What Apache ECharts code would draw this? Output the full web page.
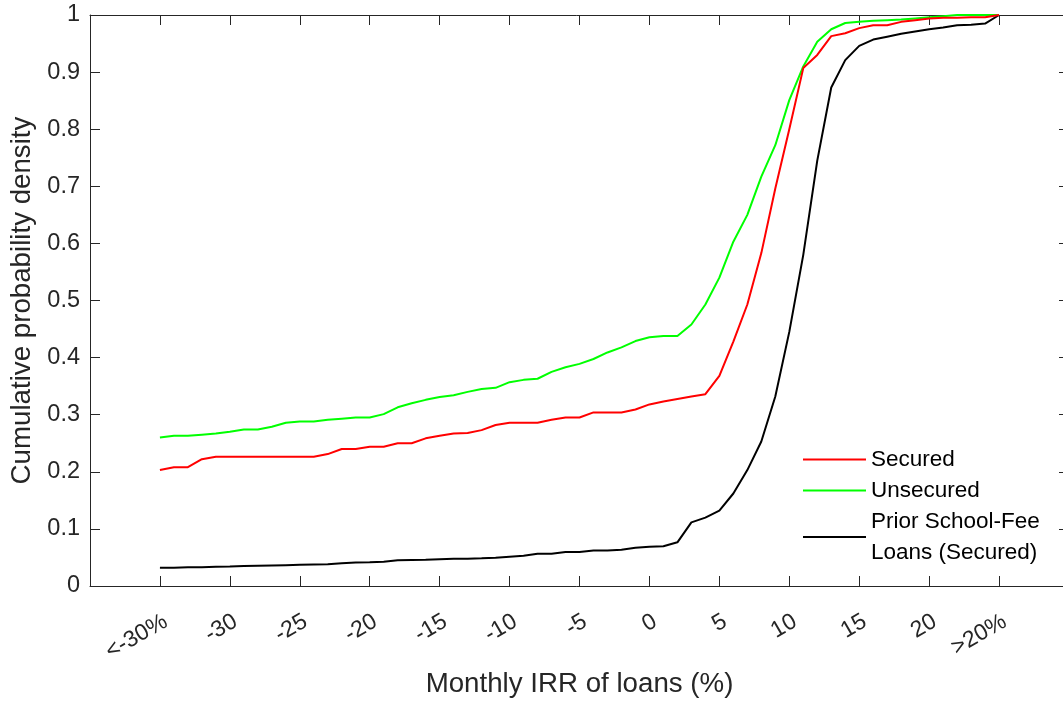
<!DOCTYPE html>
<html>
<head>
<meta charset="utf-8">
<script src="https://cdn.jsdelivr.net/npm/echarts@6/dist/echarts.min.js"></script>
<style>
html,body{margin:0;padding:0;background:#fff;}
#chart{width:1063px;height:703px;}
</style>
</head>
<body>
<div id="chart"></div>
<script>
// IRR bins (-35 stands for "<-30%", 25 stands for ">20%")
const irr = [-35,-34,-33,-32,-31,-30,-29,-28,-27,-26,-25,-24,-23,-22,-21,-20,-19,-18,-17,-16,-15,-14,-13,-12,-11,-10,-9,-8,-7,-6,-5,-4,-3,-2,-1,0,1,2,3,4,5,6,7,8,9,10,11,12,13,14,15,16,17,18,19,20,21,22,23,24,25];

const secured = [0.203,0.208,0.208,0.222,0.2265,0.2265,0.2265,0.2265,0.2265,0.2265,0.2265,0.2265,0.231,0.240,0.240,0.244,0.244,0.250,0.250,0.2586,0.263,0.267,0.268,0.273,0.282,0.286,0.286,0.286,0.291,0.295,0.295,0.304,0.304,0.304,0.309,0.318,0.323,0.3275,0.332,0.336,0.368,0.428,0.493,0.583,0.696,0.800,0.907,0.930,0.963,0.968,0.977,0.982,0.982,0.988,0.991,0.994,0.995,0.995,0.996,0.996,1.0];

const unsecured = [0.260,0.263,0.263,0.265,0.267,0.270,0.274,0.274,0.279,0.286,0.288,0.288,0.291,0.293,0.295,0.295,0.301,0.313,0.320,0.326,0.331,0.334,0.340,0.345,0.347,0.357,0.361,0.363,0.375,0.383,0.389,0.3975,0.409,0.418,0.429,0.4355,0.438,0.438,0.458,0.493,0.540,0.603,0.650,0.717,0.772,0.851,0.910,0.953,0.975,0.986,0.988,0.990,0.991,0.992,0.994,0.996,0.998,1.0,1.0,1.0,1.0];

const priorSchoolFee = [0.032,0.032,0.033,0.033,0.0335,0.034,0.035,0.0355,0.036,0.0365,0.037,0.0375,0.038,0.040,0.041,0.0414,0.0426,0.045,0.0455,0.046,0.047,0.0478,0.0478,0.0485,0.0496,0.0513,0.053,0.0566,0.0566,0.0595,0.0595,0.062,0.062,0.0636,0.067,0.0689,0.0695,0.0765,0.1115,0.1197,0.132,0.162,0.203,0.253,0.332,0.445,0.58,0.745,0.873,0.921,0.946,0.957,0.962,0.967,0.971,0.975,0.978,0.982,0.983,0.985,1.0];

const seriesNames = ['Secured', 'Unsecured', 'Prior School-Fee\nLoans (Secured)'];
const seriesColors = ['#ff0000', '#00ff00', '#000000'];
const xTickLabels = {'-35': '<-30%', '25': '>20%'};

const FONT = 'Liberation Sans, Arial, sans-serif';
const AX = '#262626';

function pairs(ys){ return irr.map((x,i)=>[x, ys[i]]); }

const chart = echarts.init(document.getElementById('chart'));
const axisCommon = {
  axisLine: {show: true, onZero: false, lineStyle: {color: AX, width: 1}},
  axisTick: {show: true, inside: true, length: 10, lineStyle: {color: AX}},
  splitLine: {show: false}
};
chart.setOption({
  animation: false,
  backgroundColor: '#fff',
  grid: {left: 90, top: 15, width: 979, height: 571, containLabel: false, outerBoundsMode: 'none'},
  xAxis: [
    Object.assign({}, axisCommon, {
      type: 'value', min: -40, max: 30, interval: 5, position: 'bottom',
      axisLabel: {
        rotate: 30, margin: 24, fontFamily: FONT, fontSize: 23, color: AX,
        align: 'right', verticalAlign: 'top',
        formatter: v => (v <= -40 || v >= 30) ? '' : (xTickLabels[String(v)] || String(v))
      },
      name: 'Monthly IRR of loans (%)', nameLocation: 'middle', nameGap: 82,
      nameTextStyle: {fontFamily: FONT, fontSize: 27.7, color: AX}
    }),
    Object.assign({}, axisCommon, {
      type: 'value', min: -40, max: 30, interval: 5, position: 'top',
      axisLabel: {show: false}
    })
  ],
  yAxis: [
    Object.assign({}, axisCommon, {
      type: 'value', min: 0, max: 1, interval: 0.1, position: 'left',
      axisLabel: {
        margin: 10, fontFamily: FONT, fontSize: 23.5, color: AX,
        formatter: v => (v === 0 ? '0' : (Math.abs(v-1) < 1e-9 ? '1' : v.toFixed(1)))
      },
      name: 'Cumulative probability density', nameLocation: 'middle', nameGap: 54,
      nameTextStyle: {fontFamily: FONT, fontSize: 27.7, color: AX}
    }),
    Object.assign({}, axisCommon, {
      type: 'value', min: 0, max: 1, interval: 0.1, position: 'right',
      axisLabel: {show: false}
    })
  ],
  legend: {
    orient: 'vertical', left: 798, top: 439,
    itemWidth: 63, itemHeight: 14, itemGap: 0,
    textStyle: {fontFamily: FONT, fontSize: 22.5, color: '#000', lineHeight: 31},
    data: seriesNames.map(n => ({name: n, icon: 'path://M0,0H63V2H0Z'}))
  },
  series: seriesNames.map((n, i) => ({
    name: n, type: 'line', xAxisIndex: 0, yAxisIndex: 0,
    data: pairs([secured, unsecured, priorSchoolFee][i]),
    symbol: 'none', showSymbol: false,
    lineStyle: {color: seriesColors[i], width: 2},
    itemStyle: {color: seriesColors[i]},
    z: 3 - i
  }))
});
</script>
</body>
</html>
